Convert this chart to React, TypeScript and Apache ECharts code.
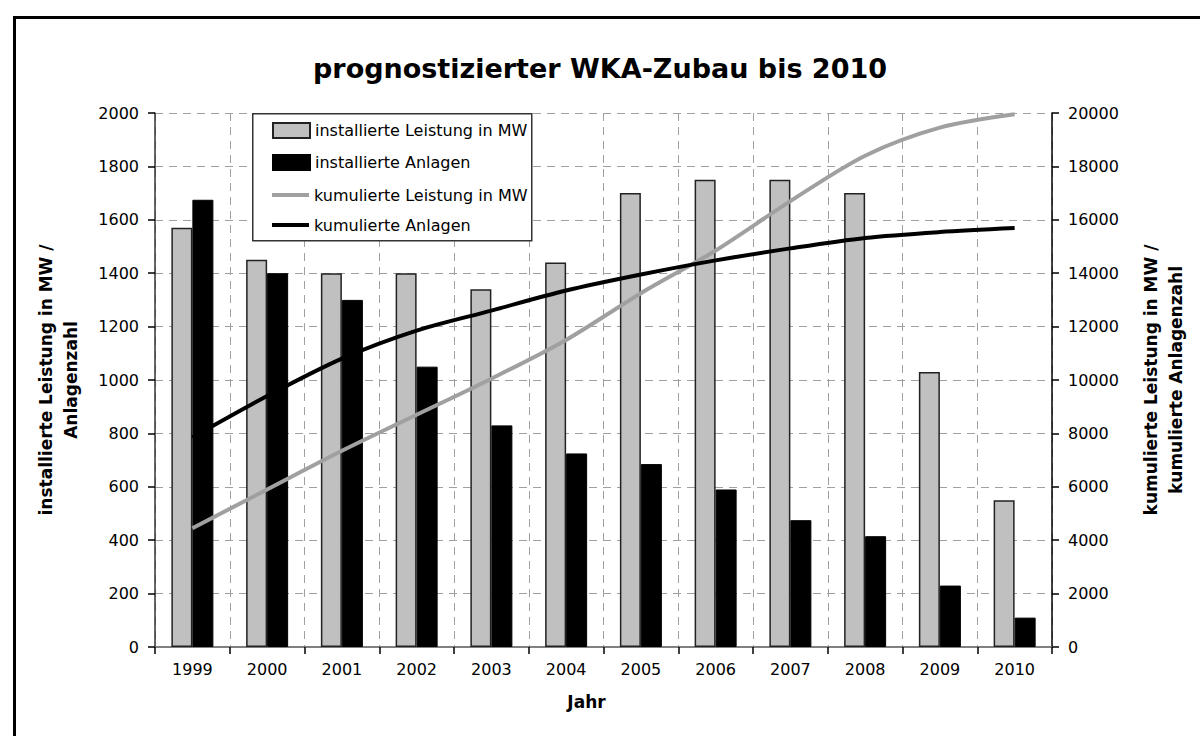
import React, { useEffect, useRef } from "react";
import * as echarts from "echarts";

const years = ["1999", "2000", "2001", "2002", "2003", "2004", "2005", "2006", "2007", "2008", "2009", "2010"];
const installierteLeistung = [1570, 1450, 1400, 1400, 1340, 1440, 1700, 1750, 1750, 1700, 1030, 550];
const installierteAnlagen = [1675, 1400, 1300, 1050, 830, 725, 685, 590, 475, 415, 230, 110];
const kumulierteLeistung = [4450, 5900, 7350, 8700, 10050, 11500, 13250, 14850, 16700, 18400, 19450, 19950];
const kumulierteAnlagen = [7850, 9400, 10800, 11850, 12600, 13350, 13950, 14480, 14930, 15320, 15540, 15690];

const FONT = "DejaVu Sans";
const plain = (v: number) => String(v);

export default function App() {
  const ref = useRef<HTMLDivElement>(null);
  useEffect(() => {
    document.body.style.margin = "0";
    const chart = echarts.init(ref.current!, null, { renderer: "svg" });
    const legendText = { fontFamily: FONT, fontSize: 16, color: "#000" };
    chart.setOption({
      animation: false,
      backgroundColor: "#ffffff",
      textStyle: { fontFamily: FONT, color: "#000" },
      title: {
        text: "prognostizierter WKA-Zubau bis 2010",
        left: "center",
        top: 50,
        textStyle: { fontFamily: FONT, fontSize: 27, fontWeight: "bold", color: "#000" },
      },
      graphic: [
        {
          type: "rect",
          left: 12,
          top: 15,
          shape: { width: 1200, height: 740 },
          style: { fill: "none", stroke: "#000", lineWidth: 3 },
          silent: true,
        },
        {
          type: "rect",
          left: 252,
          top: 113,
          z: 5,
          shape: { width: 279, height: 127 },
          style: { fill: "#fff", stroke: "#333", lineWidth: 1.5 },
          silent: true,
        },
      ],
      legend: [
        {
          orient: "vertical",
          left: 252,
          top: 122,
          z: 6,
          padding: [0, 0, 0, 20],
          itemGap: 15,
          itemWidth: 37,
          itemHeight: 15,
          textStyle: legendText,
          data: [
            { name: "installierte Leistung in MW", icon: "rect" },
            { name: "installierte Anlagen", icon: "rect" },
          ],
        },
        {
          orient: "vertical",
          left: 252,
          top: 187,
          z: 6,
          padding: [0, 0, 0, 20],
          itemGap: 14,
          itemWidth: 37,
          itemHeight: 4,
          textStyle: legendText,
          data: [
            { name: "kumulierte Leistung in MW", icon: "rect" },
            { name: "kumulierte Anlagen", icon: "rect" },
          ],
        },
      ],
      grid: { left: 155, right: 148, top: 113, bottom: 89, containLabel: false },
      xAxis: {
        type: "category",
        data: years,
        name: "Jahr",
        nameLocation: "middle",
        nameGap: 46,
        nameTextStyle: { fontFamily: FONT, fontSize: 17, fontWeight: "bold", color: "#000", padding: [0, 34, 0, 0] },
        axisLine: { show: true, lineStyle: { color: "#808080", width: 2 } },
        axisTick: { show: true, length: 7, lineStyle: { color: "#000", width: 1.5 } },
        axisLabel: { fontFamily: FONT, fontSize: 16, color: "#000", margin: 14 },
        splitLine: { show: true, lineStyle: { color: "#a0a0a0", type: [8, 6], width: 1 } },
      },
      yAxis: [
        {
          type: "value",
          min: 0,
          max: 2000,
          interval: 200,
          name: "installierte Leistung in MW /\nAnlagenzahl",
          nameLocation: "middle",
          nameGap: 72,
          nameRotate: 90,
          nameTextStyle: { fontFamily: FONT, fontSize: 17, fontWeight: "bold", color: "#000", lineHeight: 25 },
          axisLine: { show: true, lineStyle: { color: "#333", width: 1.5 } },
          axisTick: { show: true, length: 7, lineStyle: { color: "#000", width: 1.5 } },
          axisLabel: { fontFamily: FONT, fontSize: 16, color: "#000", margin: 16, formatter: plain },
          splitLine: { show: true, lineStyle: { color: "#a0a0a0", type: [8, 6], width: 1 } },
        },
        {
          type: "value",
          min: 0,
          max: 20000,
          interval: 2000,
          name: "kumulierte Leistung in MW /\nkumulierte Anlagenzahl",
          nameLocation: "middle",
          nameGap: 86,
          nameRotate: 90,
          nameTextStyle: { fontFamily: FONT, fontSize: 17, fontWeight: "bold", color: "#000", lineHeight: 25 },
          axisLine: { show: true, lineStyle: { color: "#000", width: 1.5 } },
          axisTick: { show: true, length: 7, lineStyle: { color: "#000", width: 1.5 } },
          axisLabel: { fontFamily: FONT, fontSize: 16, color: "#000", margin: 16, formatter: plain },
          splitLine: { show: false },
        },
      ],
      series: [
        {
          name: "installierte Leistung in MW",
          type: "bar",
          data: installierteLeistung,
          barWidth: 21,
          barGap: "0%",
          itemStyle: { color: "#c0c0c0", borderColor: "#222", borderWidth: 1.5 },
        },
        {
          name: "installierte Anlagen",
          type: "bar",
          data: installierteAnlagen,
          barWidth: 21,
          barGap: "0%",
          itemStyle: { color: "#000", borderColor: "#000", borderWidth: 1 },
        },
        {
          name: "kumulierte Leistung in MW",
          type: "line",
          yAxisIndex: 1,
          data: kumulierteLeistung,
          smooth: 0.3,
          symbol: "none",
          showSymbol: false,
          lineStyle: { color: "#a0a0a0", width: 4 },
          itemStyle: { color: "#a0a0a0" },
          z: 3,
        },
        {
          name: "kumulierte Anlagen",
          type: "line",
          yAxisIndex: 1,
          data: kumulierteAnlagen,
          smooth: 0.3,
          symbol: "none",
          showSymbol: false,
          lineStyle: { color: "#000", width: 4 },
          itemStyle: { color: "#000" },
          z: 4,
        },
      ],
    });
    return () => chart.dispose();
  }, []);
  return <div ref={ref} style={{ width: 1200, height: 736 }} />;
}
